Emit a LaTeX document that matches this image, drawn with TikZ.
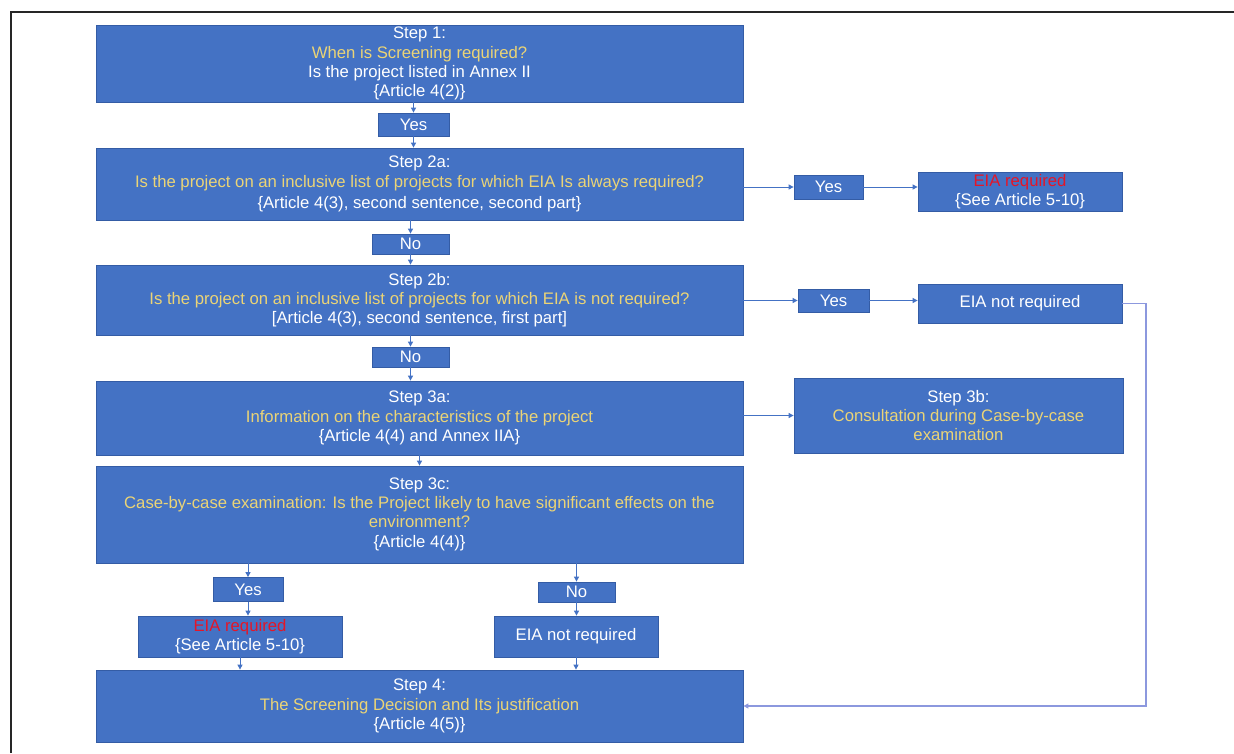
\documentclass[tikz,border=0pt]{standalone}
\usepackage{fontspec}
\setmainfont{Liberation Sans}
\usetikzlibrary{arrows.meta}
\definecolor{boxblue}{RGB}{68,114,196}
\definecolor{boxedge}{RGB}{52,92,165}
\definecolor{gold}{RGB}{235,212,118}
\definecolor{alertred}{RGB}{228,22,40}
\definecolor{retline}{RGB}{140,152,222}
\tikzset{
  box/.style={draw=boxedge, line width=0.8pt, fill=boxblue, text=white, inner sep=0pt, align=center,
    font=\fontsize{16.7}{19.2}\selectfont},
  bigbox/.style={box, minimum width=647pt},
  arr/.style={draw=boxblue, line width=1pt, -{Triangle[width=5pt,length=5pt]}},
  ret/.style={draw=retline, line width=1.5pt, -{Triangle[width=5pt,length=5pt]}},
}
\newcommand{\gl}[1]{\textcolor{gold}{#1}}
\newcommand{\rl}[1]{\textcolor{alertred}{#1}}
\begin{document}
\begin{tikzpicture}[x=1pt, y=-1pt]
\useasboundingbox (0,0) rectangle (1234,753);
\fill[white] (0,0) rectangle (1234,753);
% frame
\draw[line width=2pt, black!85] (11,753) -- (11,12) -- (1234,12);

% main column
\node[bigbox, minimum height=77pt] (step1) at (419.5,63.5)
  {Step 1:\\ \gl{When is Screening required?}\\ Is the project listed in Annex II\\ \{Article 4(2)\}};
\node[box, minimum width=71pt, minimum height=23pt] (yes1) at (413.5,124.5) {Yes};
\node[bigbox, minimum height=72pt] (step2a) at (419.5,184)
  {Step 2a:\\ \gl{Is the project on an inclusive list of projects for which EIA Is always required?}\\[2pt] \{Article 4(3), second sentence, second part\}};
\node[box, minimum width=77pt, minimum height=20pt] (no1) at (410.5,244) {No};
\node[bigbox, minimum height=70pt] (step2b) at (419.5,300)
  {Step 2b:\\ \gl{Is the project on an inclusive list of projects for which EIA is not required?}\\ {[}Article 4(3), second sentence, first part{]}};
\node[box, minimum width=77pt, minimum height=20pt] (no2) at (410.5,357) {No};
\node[bigbox, minimum height=74pt] (step3a) at (419.5,418)
  {Step 3a:\\ \gl{Information on the characteristics of the project}\\ \{Article 4(4) and Annex IIA\}};
\node[bigbox, minimum height=97pt] (step3c) at (419.5,514.5)
  {Step 3c:\\ \gl{Case-by-case examination: Is the Project likely to have significant effects on the}\\ \gl{environment?}\\[1pt] \{Article 4(4)\}};
\node[bigbox, minimum height=72pt] (step4) at (419.5,706)
  {Step 4:\\ \gl{The Screening Decision and Its justification}\\ \{Article 4(5)\}};

% right column
\node[box, minimum width=69pt, minimum height=24pt] (yes2a) at (828.5,187) {Yes};
\node[box, minimum width=204pt, minimum height=39pt] (req2a) at (1020,191.5)
  {\rl{EIA required}\\ \{See Article 5-10\}};
\node[box, minimum width=71pt, minimum height=23pt] (yes2b) at (833.5,300.5) {Yes};
\node[box, minimum width=204pt, minimum height=39pt] (not2b) at (1020,303.5) {EIA not required};
\node[box, minimum width=329pt, minimum height=75pt] (step3b) at (958.5,415.5)
  {Step 3b:\\ \gl{Consultation during Case-by-case}\\ \gl{examination}};

% bottom branches
\node[box, minimum width=70pt, minimum height=24pt] (yes3) at (248,589.5) {Yes};
\node[box, minimum width=204pt, minimum height=41pt] (req3) at (240,636.5)
  {\rl{EIA required}\\ \{See Article 5-10\}};
\node[box, minimum width=77pt, minimum height=20pt] (no3) at (576.5,592) {No};
\node[box, minimum width=164pt, minimum height=41pt] (not3) at (576,636.5) {EIA not required};

% vertical connectors
\draw[arr] (step1.south -| yes1.north) -- (yes1.north);
\draw[arr] (yes1.south) -- (yes1.south |- step2a.north);
\draw[arr] (step2a.south -| no1.north) -- (no1.north);
\draw[arr] (no1.south) -- (no1.south |- step2b.north);
\draw[arr] (step2b.south -| no2.north) -- (no2.north);
\draw[arr] (no2.south) -- (no2.south |- step3a.north);
\draw[arr] (step3a.south) -- (step3c.north);
\draw[arr] (step3c.south -| yes3.north) -- (yes3.north);
\draw[arr] (yes3.south) -- (yes3.south |- req3.north);
\draw[arr] (req3.south) -- (req3.south |- step4.north);
\draw[arr] (step3c.south -| no3.north) -- (no3.north);
\draw[arr] (no3.south) -- (no3.south |- not3.north);
\draw[arr] (not3.south) -- (not3.south |- step4.north);

% horizontal connectors
\draw[arr] (step2a.east |- yes2a.west) -- (yes2a.west);
\draw[arr] (yes2a.east) -- (yes2a.east -| req2a.west);
\draw[arr] (step2b.east |- yes2b.west) -- (yes2b.west);
\draw[arr] (yes2b.east) -- (yes2b.east -| not2b.west);
\draw[arr] (step3a.east |- step3b.west) -- (step3b.west);

% return line
\coordinate (r1) at (1146,303.5);
\coordinate (r2) at (1146,706);
\draw[ret] (not2b.east) -- (r1) -- (r2) -- (step4.east);
\end{tikzpicture}
\end{document}
